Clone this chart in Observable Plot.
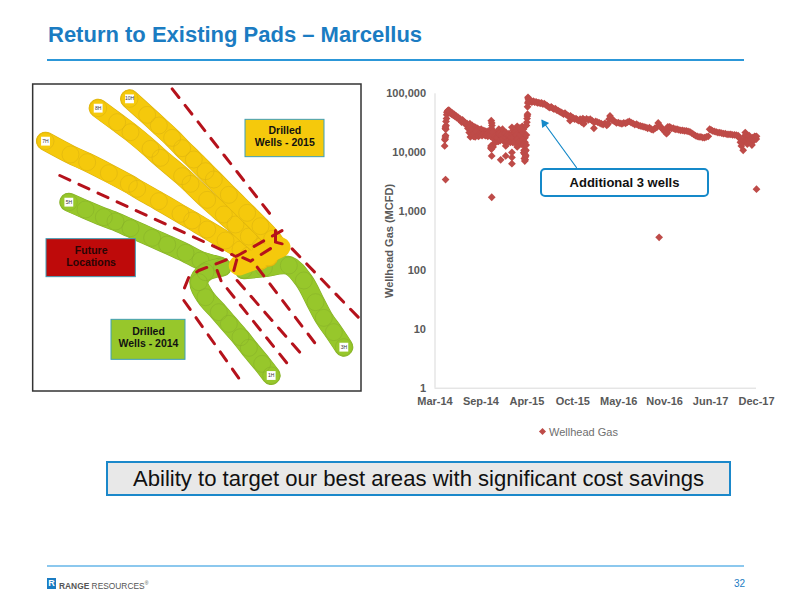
<!DOCTYPE html>
<html><head><meta charset="utf-8">
<script src="https://cdn.jsdelivr.net/npm/d3@7"></script>
<script src="https://cdn.jsdelivr.net/npm/@observablehq/plot@0.6"></script>
<style>
html,body{margin:0;padding:0;background:#fff}
#page{position:relative;width:800px;height:600px;overflow:hidden;font-family:"Liberation Sans",Arial,sans-serif}
#page>*{position:absolute}
h1{margin:0;left:48px;top:23px;font-size:22px;line-height:24px;font-weight:700;color:#1B7CC2;white-space:nowrap}
.rule{height:2px;left:47px;width:697px}
#banner{left:106px;top:461px;width:621px;height:31px;border:2px solid #1B88CA;background:#E8E8E8;text-align:center;font-size:22.1px;line-height:32px;color:#111;white-space:nowrap}
#callout{left:540px;top:167.5px;width:165px;height:25px;border:2px solid #1589C9;border-radius:5px;background:#fff;text-align:center;font-weight:700;font-size:13px;line-height:25px;color:#111}
#legend{left:539px;top:425px;font-size:11px;line-height:14px;color:#6f6f6f;white-space:nowrap}
#legend i{display:inline-block;width:5px;height:5px;background:#BE4B48;transform:rotate(45deg);margin:0 4px 2px 1px}
#logo{left:47px;top:578px;width:9px;height:11px;background:#1B7CC2;color:#fff;font-size:9px;line-height:11px;font-weight:700;text-align:center}
#brand{left:59px;top:577px;font-size:8.4px;line-height:12px;color:#555;white-space:nowrap}
#pg{left:734px;top:577px;font-size:10px;line-height:13px;color:#1B7CC2}
</style></head><body>
<div id="page">
<h1>Return to Existing Pads – Marcellus</h1>
<div class="rule" style="top:58.5px;background:#2C97D8"></div>
<div id="banner">Ability to target our best areas with significant cost savings</div>
<div class="rule" style="top:564.5px;background:#8CC8EE"></div>
<div id="logo">R</div>
<div id="brand"><b>RANGE</b> RESOURCES<sup style="font-size:5px">®</sup></div>
<div id="pg">32</div>
</div>
<script>
// ---------- production chart data ----------
const tickDays = [0,200,400,600,800,1000,1200,1400];
const tickLabels = ["Mar-14","Sep-14","Apr-15","Oct-15","May-16","Nov-16","Jun-17","Dec-17"];
const yTicks = [1,10,100,1000,10000,100000];
const gasFirstYear = [[46,3500],[42,13000],[43,16500],[44,17000],[45,18500],[46,19500],[45,26000],[46,27500],[47,25000],[48,29000],[48,34000],[50,38000],[51,44000],[52,48000],[54,50000],[56,52000],[58,50000],[60,53000],[62,49000],[64,51000],[66,47000],[68,49000],[72,45000],[76,47000],[80,43000],[84,44500],[88,41000],[92,42000],[96,39000],[100,40000],[104,37000],[108,38000],[112,35500],[116,33000],[120,36000],[124,34000],[128,31500],[132,32500],[136,30000],[140,31000],[143,26000],[146,29000],[149,22000],[152,31000],[154,18500],[156,27000],[158,24000],[160,20500],[162,29000],[164,25000],[166,22000],[168,19000],[170,27500],[172,23500],[174,21000],[176,27000],[178,24000],[180,20500],[183,26000],[186,22500],[189,25000],[192,21500],[195,24500],[198,23000],[201,25000],[205,22500],[209,24000],[213,22500],[217,23500],[222,22000],[227,23000],[232,22000],[238,22500],[245,35000],[247,32000],[248,29000],[246,26000],[249,24000],[247,21000],[244,13000],[243,12000],[246,11500],[247,8800],[250,13500],[253,12500],[247,1750],[286,7560],[308,8800],[308,13000],[335,6500],[335,8300],[335,10100],[358,12500],[258,20000],[262,17000],[266,22000],[270,15500],[274,20500],[278,25000],[282,18500],[286,23000],[290,17000],[294,25000],[298,21000],[302,18500],[306,16500],[310,22000],[314,19000],[318,17000],[322,21000],[326,18000],[330,20000],[334,16500],[338,15000],[335,27000],[340,24000],[344,21000],[348,17500],[352,19000],[356,15500],[360,13500],[358,28000],[362,25000],[365,22000],[368,19000],[372,17000],[376,24000],[380,20000],[384,16500],[380,28000],[388,21000],[392,18000]];
const gasFirstYearBand = [[150,26000],[155,22000],[160,24500],[165,19500],[170,21000],[175,18500],[180,23000],[185,19500],[190,19000],[195,20500],[200,20000],[205,19500],[210,20500],[215,20000],[220,19500],[225,20000],[230,19000],[236,20000],[242,19000],[252,22500],[256,17000],[260,19000],[264,15000],[268,18000],[272,18000],[276,15500],[280,21000],[284,16000],[288,19500],[292,20500],[296,17500],[300,15500],[304,21000],[308,18000],[312,15500],[316,20000],[320,15500],[324,19000],[328,15000],[332,18500],[336,20000],[340,18000],[344,15000],[348,21000],[352,23000],[356,20000],[360,17000],[364,15000],[368,15500],[372,20000],[376,14000],[380,16500],[384,22000],[388,14500],[392,15000],[385,25000],[375,26000],[368,26000]];
const gasNewWells = [[385,13500],[388,11000],[390,9500],[392,10500],[394,8500],[386,10000],[389,8000],[391,7200],[393,7600],[395,9000],[396,11000],[397,13500],[398,20000],[396,29000],[398,29000],[400,33000],[401,38000],[402,42000],[403,45000],[403,60000],[404,70000],[405,87000],[406,82000],[407,75000],[410,80000],[414,74000],[418,76000],[422,72000],[428,75000],[434,72000],[440,73000],[446,70000],[452,71000],[458,69000],[464,70000],[470,67000],[476,68000],[482,65000],[488,63000],[494,60000],[500,58000],[506,60000],[512,57000],[518,55000],[524,56000],[530,53000],[536,52000],[542,50000],[548,49000],[554,47000],[560,45000],[566,47000],[572,44000],[578,43000],[584,41000],[590,42000],[588,35000],[596,40000],[602,39000],[608,37000],[614,38000],[620,36000],[626,35000],[632,37000],[638,33000],[644,38000],[650,36000],[648,31000],[660,37500],[668,36000],[676,37000],[684,35000],[692,33000],[692,26000],[700,34000],[708,33000],[716,32000],[724,31000],[732,30000],[740,31500],[748,29000],[754,31000],[758,37000],[762,42000],[766,39000],[770,37000],[776,35000],[782,34000],[790,32000],[798,32500],[806,31500],[814,31000],[822,32000],[830,31500],[838,33000],[846,34000],[854,32500],[862,31500],[870,30000],[878,30500],[886,29000],[894,28500],[902,28000],[910,27500],[918,27000],[926,26000],[934,26500],[942,25000],[950,24500],[958,26000],[966,27000],[972,32000],[978,29000],[976,365],[984,27000],[990,25500],[996,24000],[1002,22500],[1008,21000],[1012,22000],[1018,25000],[1014,27500],[1022,27500],[1030,26000],[1038,26000],[1046,25000],[1054,25000],[1062,24500],[1070,24000],[1078,24000],[1086,23500],[1094,23500],[1102,23000],[1110,22500],[1118,21500],[1126,20500],[1134,19500],[1142,19000],[1150,18500],[1158,18500],[1166,18000],[1174,18000],[1182,18500],[1190,19000],[1196,25000],[1202,24500],[1208,23500],[1216,23000],[1224,22500],[1232,22000],[1240,22000],[1248,21500],[1256,21000],[1264,21000],[1272,20500],[1280,20500],[1288,20500],[1296,20000],[1304,20000],[1312,19800],[1320,19500],[1326,17500],[1330,15000],[1334,13000],[1338,14500],[1342,11000],[1345,16000],[1348,19000],[1351,22000],[1354,20000],[1357,16000],[1360,14000],[1364,17000],[1368,19500],[1372,15000],[1376,17000],[1380,13500],[1384,18000],[1388,16000],[1392,19000],[1396,18500],[1399,17000],[1400,19000],[1400,2400]];
const arrowPoint = [{x1:616,y1:5600,x2:467,y2:35200}];

// ---------- well map data (site units) ----------
const well10H = [[297,55],[350,103],[385,135],[425,172],[455,203],[490,237],[525,272],[550,297],[595,343],[650,397],[690,437],[725,475],[745,505]];
const well8H = [[203,83],[260,125],[300,155],[360,205],[390,232],[455,287],[480,310],[530,358],[580,402],[615,432],[655,468],[690,498],[715,530]];
const well7H = [[45,182],[120,222],[170,245],[235,278],[295,310],[320,325],[385,362],[450,400],[485,420],[530,447],[585,480],[630,507],[655,525],[690,540]];
const well5H = [[115,365],[165,387],[220,410],[255,423],[300,443],[365,472],[410,492],[465,517],[510,540],[570,557]];
const well1H = [[575,560],[525,575],[505,605],[525,650],[565,695],[595,730],[630,770],[655,802],[695,850],[722,885]];
const well3H = [[640,568],[700,562],[775,555],[820,600],[855,665],[880,712],[910,755],[940,800]];
const padYellow = [[625,555],[680,535],[750,500]];
const futureDashed = [
  [[425,25],[730,415]],[[785,505],[985,712]],[[88,285],[610,525]],
  [[460,660],[630,900]],[[560,570],[572,602],[775,855]],[[620,600],[825,835]],[[680,560],[855,790]],
  [[462,622],[475,590],[505,570],[622,525],[755,450]],[[610,570],[622,525],[660,542],[735,495],[735,450]],[[735,485],[755,490]]
];
const wellTags = [["10H",297,55],["8H",203,83],["7H",45,182],["5H",115,365],["1H",722,885],["3H",940,800]];
const boxes = [
  {x1:645,x2:882,y1:118,y2:230,fill:"#F5C90C",label:"Drilled\nWells - 2015",cx:763,cy:166,ink:"#111"},
  {x1:48,x2:316,y1:476,y2:590,fill:"#BE0A0A",label:"Future\nLocations",cx:182,cy:526,ink:"#2a0505"},
  {x1:243,x2:465,y1:718,y2:838,fill:"#97C72B",label:"Drilled\nWells - 2014",cx:354,cy:769,ink:"#111"}
];
const frame = [{x1:8,x2:993,y1:12,y2:933}];

const page = document.getElementById("page");
const font = '"Liberation Sans",Arial,sans-serif';
const gas = gasFirstYear.concat(gasFirstYearBand, gasNewWells);

const chart = Plot.plot({
  width:420,height:370,marginLeft:64.5,marginRight:34,marginTop:18.3,marginBottom:57.3,
  style:{fontFamily:font,fontSize:"11px",fontWeight:700,position:"absolute",left:"370px",top:"75px",background:"transparent",overflow:"visible"},
  x:{domain:[0,1400]},
  y:{type:"log",domain:[1,100000]},
  marks:[
    Plot.ruleY([1],{stroke:"#D9D9D9",strokeWidth:1}),
    Plot.ruleX([0],{stroke:"#D9D9D9",strokeWidth:1}),
    Plot.axisX({ticks:tickDays,tickFormat:d=>tickLabels[tickDays.indexOf(d)],tickSize:0,tickPadding:9,color:"#595959",label:null}),
    Plot.axisY({ticks:yTicks,tickFormat:d=>d3.format(",")(d),tickSize:0,tickPadding:9,color:"#595959",label:"Wellhead Gas (MCFD)",labelAnchor:"center",labelArrow:"none",labelOffset:50}),
    Plot.dot(gas,{x:d=>d[0],y:d=>d[1],symbol:"diamond2",r:3.5,fill:"#BE4B48"}),
    Plot.arrow(arrowPoint,{x1:"x1",y1:"y1",x2:"x2",y2:"y2",bend:0,stroke:"#1589C9",strokeWidth:1.2,headLength:0}),
    Plot.dot(arrowPoint,{x:"x2",y:"y2",symbol:"triangle",r:3.2,fill:"#1589C9",rotate:-36,dx:2,dy:3})
  ]
});
page.appendChild(chart);

const callout = document.createElement("div");
callout.id="callout"; callout.textContent="Additional 3 wells"; page.appendChild(callout);
const legend = document.createElement("div");
legend.id="legend"; legend.innerHTML="<i></i>Wellhead Gas"; page.appendChild(legend);

const yellow="#F5C90C", green="#97C72B";
const wellMarks=(pts,color,edge)=>[
  Plot.line(pts,{stroke:edge,strokeWidth:19,strokeLinecap:"round",strokeLinejoin:"round",curve:"catmull-rom"}),
  Plot.line(pts,{stroke:color,strokeWidth:18,strokeLinecap:"round",strokeLinejoin:"round",curve:"catmull-rom"}),
  Plot.dot(pts,{r:8.5,stroke:edge,strokeWidth:.7,strokeOpacity:.7,fill:"none"})
];
const map = Plot.plot({
  width:340,height:315,margin:0,
  style:{fontFamily:font,position:"absolute",left:"30px",top:"80px",background:"transparent"},
  x:{domain:[0,1020],axis:null},
  y:{domain:[945,0],axis:null},
  marks:[
    Plot.rect(frame,{x1:"x1",x2:"x2",y1:"y1",y2:"y2",fill:"#fff",stroke:"#333",strokeWidth:1.5}),
    ...wellMarks(well5H,green,"#84AE28"),
    ...wellMarks(well1H,green,"#84AE28"),
    ...wellMarks(well3H,green,"#84AE28"),
    ...wellMarks(well7H,yellow,"#D9AF10"),
    ...wellMarks(well8H,yellow,"#D9AF10"),
    ...wellMarks(well10H,yellow,"#D9AF10"),
    Plot.line(padYellow,{stroke:yellow,strokeWidth:20,strokeLinecap:"round"}),
    ...futureDashed.map(seg=>Plot.line(seg,{stroke:"#B5121B",strokeWidth:3,strokeDasharray:"11,10"})),
    Plot.rect(boxes,{x1:"x1",x2:"x2",y1:"y1",y2:"y2",fill:"fill",stroke:"#3F9FB8",strokeWidth:1}),
    Plot.text(boxes,{x:"cx",y:"cy",text:"label",fill:"ink",fontSize:10.5,fontWeight:700,lineHeight:1.15}),
    Plot.dot(wellTags,{x:d=>d[1],y:d=>d[2],symbol:"square",r:5,fill:"#fff"}),
    Plot.text(wellTags,{x:d=>d[1],y:d=>d[2],text:d=>d[0],fontSize:5,fill:"#333"})
  ]
});
page.appendChild(map);
</script>
</body></html>
